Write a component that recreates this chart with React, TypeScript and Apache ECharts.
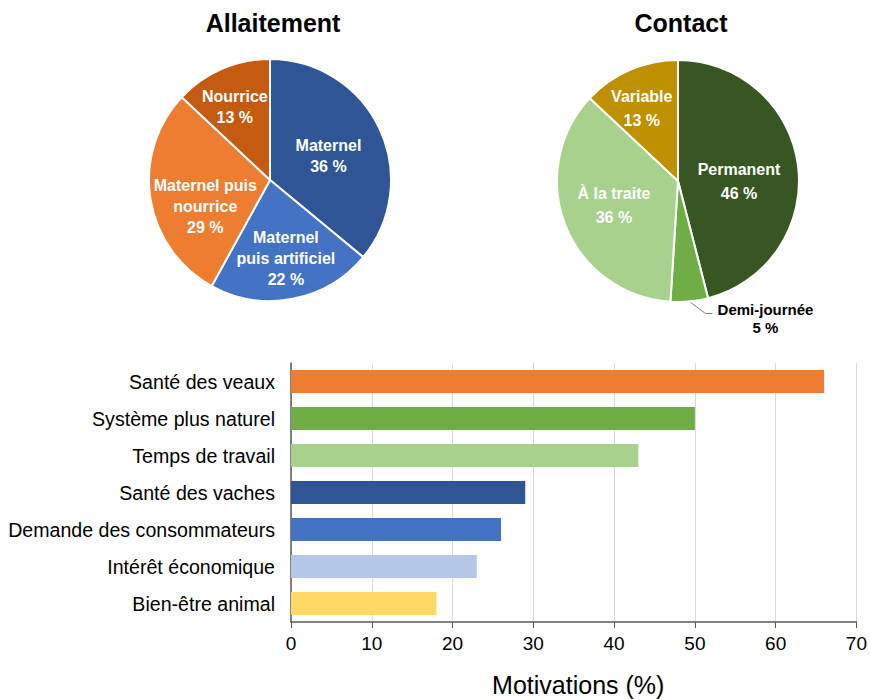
import React, { useEffect, useRef } from "react";
import * as echarts from "echarts";

const FONT = "'Liberation Sans', Arial, sans-serif";

const allaitementNames = ["Maternel", "Maternel puis artificiel", "Maternel puis nourrice", "Nourrice"];
const allaitementLabelText = ["Maternel", "Maternel\npuis artificiel", "Maternel puis\nnourrice", "Nourrice"];
const allaitementValues = [36, 22, 29, 13];
const allaitementColors = ["#2F5597", "#4472C4", "#ED7D31", "#C55A11"];

const contactNames = ["Permanent", "Demi-journée", "À la traite", "Variable"];
const contactValues = [46, 5, 36, 13];
const contactColors = ["#375623", "#70AD47", "#A9D18E", "#BF9000"];

const motivationCategories = [
  "Santé des veaux",
  "Système plus naturel",
  "Temps de travail",
  "Santé des vaches",
  "Demande des consommateurs",
  "Intérêt économique",
  "Bien-être animal",
];
const motivationValues = [66, 50, 43, 29, 26, 23, 18];
const motivationColors = ["#ED7D31", "#70AD47", "#A9D18E", "#2F5597", "#4472C4", "#B4C7E7", "#FFD966"];

// label nudges (layout only)
const allaitementShift = [[1, 3], [4, 16], [-2, 17], [-10, -15]];
const contactShift = [[-2, 8], [12, 5], [-5, 1], [-11, -14]];

export default function App() {
  const ref = useRef<HTMLDivElement>(null);
  useEffect(() => {
    if (!ref.current) return;
    const chart = echarts.init(ref.current, undefined, { renderer: "svg" });
    const insideLabel = {
      show: true,
      position: "inside",
      color: "#fff",
      fontFamily: FONT,
      fontWeight: "bold",
      fontSize: 16,
    };
    chart.setOption({
      animation: false,
      backgroundColor: "#fff",
      textStyle: { fontFamily: FONT },
      title: [
        {
          text: "Allaitement",
          left: 268,
          top: 5,
          textAlign: "center",
          textStyle: { fontFamily: FONT, fontWeight: "bold", fontSize: 25, color: "#000" },
        },
        {
          text: "Contact",
          left: 676,
          top: 5,
          textAlign: "center",
          textStyle: { fontFamily: FONT, fontWeight: "bold", fontSize: 25, color: "#000" },
        },
      ],
      grid: { left: 291, right: 10, top: 363, bottom: 77 },
      xAxis: {
        type: "value",
        min: 0,
        max: 70,
        interval: 10,
        axisLine: { show: true, lineStyle: { color: "#595959", width: 1.5 } },
        axisTick: { show: true, length: 6, lineStyle: { color: "#595959" } },
        axisLabel: { fontFamily: FONT, fontSize: 19, color: "#000", margin: 12 },
        splitLine: { show: true, lineStyle: { color: "#D9D9D9", width: 1 } },
        name: "Motivations (%)",
        nameLocation: "middle",
        nameGap: 50,
        nameTextStyle: { fontFamily: FONT, fontSize: 25, color: "#000", padding: [0, 0, 0, 9] },
      },
      yAxis: {
        type: "category",
        inverse: true,
        data: motivationCategories,
        axisLine: { show: true, lineStyle: { color: "#595959", width: 1.5 } },
        axisTick: { show: false },
        axisLabel: { fontFamily: FONT, fontSize: 19.6, color: "#000", margin: 16 },
      },
      series: [
        {
          type: "bar",
          barWidth: 23,
          data: motivationValues.map((v, i) => ({ value: v, itemStyle: { color: motivationColors[i] } })),
        },
        {
          type: "pie",
          center: [270, 180],
          radius: [0, 121],
          startAngle: 90,
          clockwise: true,
          itemStyle: { borderColor: "#fff", borderWidth: 2 },
          label: { ...insideLabel, lineHeight: 21, formatter: (p: any) => allaitementLabelText[p.dataIndex] + "\n" + p.value + " %" },
          labelLine: { show: false },
          labelLayout: (p: any) => ({ dx: allaitementShift[p.dataIndex][0], dy: allaitementShift[p.dataIndex][1] }),
          emphasis: { disabled: true },
          data: allaitementNames.map((n, i) => ({
            name: n,
            value: allaitementValues[i],
            itemStyle: { color: allaitementColors[i] },
          })),
        },
        {
          type: "pie",
          center: [678, 181],
          radius: [0, 121],
          startAngle: 90,
          clockwise: true,
          itemStyle: { borderColor: "#fff", borderWidth: 2 },
          label: { ...insideLabel, lineHeight: 24, formatter: "{b}\n{c} %" },
          labelLine: { show: false },
          labelLayout: (p: any) => {
            const s = contactShift[p.dataIndex];
            const out: any = { dx: s[0], dy: s[1] };
            const pts = p.labelLinePoints;
            if (p.dataIndex === 1 && pts && pts.length) {
              const p0 = pts[0];
              const p1 = [p0[0] + 16, p0[1] + 12];
              const p2 = [p1[0] + 7, p1[1]];
              out.labelLinePoints = [p0, p1, p2];
            }
            return out;
          },
          emphasis: { disabled: true },
          data: contactNames.map((n, i) => {
            const item: any = { name: n, value: contactValues[i], itemStyle: { color: contactColors[i] } };
            if (i === 1) {
              item.label = {
                show: true,
                position: "outside",
                color: "#000",
                fontFamily: FONT,
                fontWeight: "bold",
                fontSize: 15,
                formatter: "{a|{b}}\n{a|{c} %}",
                rich: { a: { width: 100, align: "center", fontFamily: FONT, fontWeight: "bold", fontSize: 15, color: "#000", lineHeight: 18 } },
              };
              item.labelLine = { show: true, length: 12, length2: 8, lineStyle: { color: "#7F7F7F", width: 1 } };
            }
            return item;
          }),
        },
      ],
    });
    return () => chart.dispose();
  }, []);
  return (
    <div
      ref={ref}
      style={{ position: "fixed", left: 0, top: 0, width: 870, height: 699, background: "#fff" }}
    />
  );
}
